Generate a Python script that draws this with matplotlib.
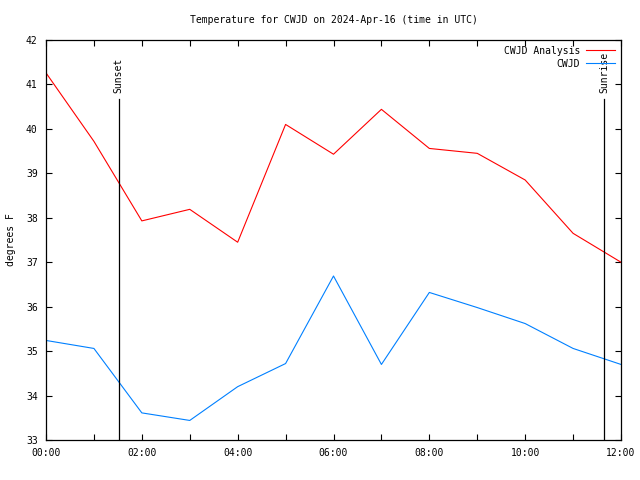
import matplotlib
matplotlib.use("Agg")
import matplotlib.pyplot as plt
from matplotlib.ticker import FuncFormatter, MultipleLocator

# hours after 00:00 UTC
hours = [0, 1, 2, 3, 4, 5, 6, 7, 8, 9, 10, 11, 12]
analysis = [41.26, 39.72, 37.93, 38.19, 37.45, 40.10, 39.43, 40.44, 39.56, 39.45, 38.85, 37.65, 37.00]
observed = [35.24, 35.06, 33.61, 33.44, 34.20, 34.72, 36.69, 34.70, 36.32, 35.98, 35.62, 35.06, 34.70]
sunset = 1.52
sunrise = 11.65
station = "CWJD"

plt.rcParams['font.family'] = ['DejaVu Sans Mono']
plt.rcParams['font.size'] = 7

fig = plt.figure(figsize=(6.4, 4.8), dpi=100)
ax = fig.add_axes([46 / 640, 40 / 480, 575 / 640, 400 / 480])

ax.plot(hours, analysis, color='#ff0000', lw=0.8, label=station + " Analysis")
ax.plot(hours, observed, color='#0080ff', lw=0.8, label=station)

ax.set_xlim(0, 12)
ax.set_ylim(33, 42)

# sunset / sunrise markers
for x, name in [(sunset, "Sunset"), (sunrise, "Sunrise")]:
    ax.plot([x, x], [33, 40.67], color='black', lw=0.9)
    ax.text(x, 40.8, name, rotation=90, ha='center', va='bottom', fontsize=7)

ax.xaxis.set_major_locator(MultipleLocator(1))
ax.xaxis.set_major_formatter(FuncFormatter(lambda v, p: "%02d:00" % v if int(round(v)) % 2 == 0 else ""))
ax.yaxis.set_major_locator(MultipleLocator(1))
ax.yaxis.set_major_formatter(FuncFormatter(lambda v, p: "%d" % v))
ax.tick_params(direction='in', length=4, width=0.8, top=True, right=True, pad=6)

for s in ax.spines.values():
    s.set_linewidth(0.9)

ax.set_ylabel("degrees F", fontsize=7, labelpad=7)
ax.set_title("Temperature for %s on 2024-Apr-16 (time in UTC)" % station, fontsize=7, pad=12.5)

leg = ax.legend(loc='upper right', frameon=False, markerfirst=False, handlelength=3.0,
                handletextpad=0.6, labelspacing=0.3, borderaxespad=0.2, fontsize=7)

fig.savefig("out.png", dpi=100)
